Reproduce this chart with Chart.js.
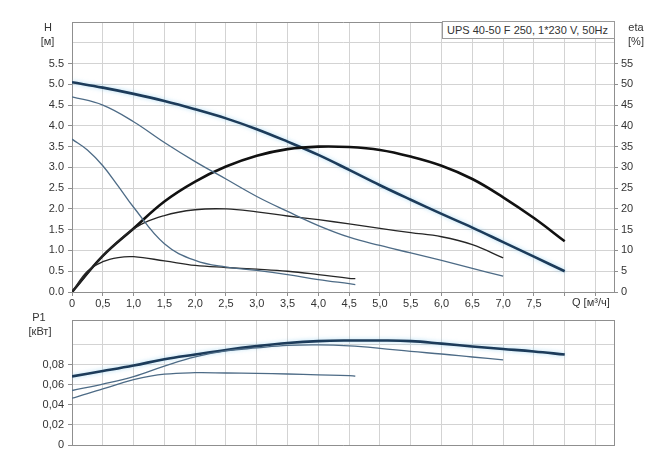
<!DOCTYPE html>
<html>
<head>
<meta charset="utf-8">
<script src="https://cdn.jsdelivr.net/npm/chart.js@4.4.1/dist/chart.umd.min.js"></script>
<style>
body{margin:0;background:#fff;font-family:"Liberation Sans",Arial,sans-serif;}
#wrap{position:relative;width:670px;height:470px;overflow:hidden;}
canvas{position:absolute;left:0;}
#top{top:0;}
#bot{top:310px;}
.lbl{position:absolute;font-size:11px;color:#333;text-align:center;line-height:12px;white-space:nowrap;}
#box{position:absolute;left:442px;top:21px;border:1px solid #9a9a9a;background:#fff;
     font-size:11px;color:#333;line-height:16px;padding-left:4px;box-sizing:border-box;width:173px;height:18px;white-space:nowrap;}
</style>
</head>
<body>
<div id="wrap">
  <canvas id="top" width="670" height="310"></canvas>
  <canvas id="bot" width="670" height="160"></canvas>
  <div class="lbl" style="left:38px;top:21px;width:20px;">H</div>
  <div class="lbl" style="left:36px;top:35px;width:23px;">[м]</div>
  <div class="lbl" style="left:623px;top:21px;width:26px;">eta</div>
  <div class="lbl" style="left:623px;top:35px;width:26px;">[%]</div>
  <div class="lbl" style="left:572px;top:296px;text-align:left;">Q [м³/ч]</div>
  <div class="lbl" style="left:28px;top:311px;width:22px;">P1</div>
  <div class="lbl" style="left:20px;top:325px;width:40px;">[кВт]</div>
  <div id="box">UPS 40-50 F 250, 1*230 V, 50Hz</div>
</div>
<script>
// flow, m3/h
var q3 = [0, 0.5, 1, 1.5, 2, 2.5, 3, 3.5, 4, 4.5, 5, 5.5, 6, 6.5, 7, 7.5, 8];
var q2 = [0, 0.5, 1, 1.5, 2, 2.5, 3, 3.5, 4, 4.5, 5, 5.5, 6, 6.5, 7];
var q1 = [0, 0.25, 0.5, 0.75, 1, 1.5, 2, 2.5, 3, 3.5, 4, 4.5, 4.6];

// head H, m
var h3 = [5.05, 4.92, 4.77, 4.6, 4.4, 4.18, 3.92, 3.62, 3.3, 2.94, 2.57, 2.22, 1.88, 1.55, 1.2, 0.85, 0.5];
var h2 = [4.7, 4.5, 4.1, 3.6, 3.14, 2.72, 2.3, 1.94, 1.6, 1.32, 1.12, 0.94, 0.76, 0.57, 0.38];
var h1 = [3.68, 3.42, 3.04, 2.55, 2.04, 1.16, 0.76, 0.6, 0.52, 0.42, 0.3, 0.2, 0.18];

// efficiency eta, %
var eta3 = [0, 8.7, 15.3, 21.8, 26.6, 30.2, 32.8, 34.4, 35, 34.9, 34.2, 32.6, 30.4, 27.2, 22.8, 17.8, 12.2];
var eta2 = [0, 8.6, 15.2, 18.4, 19.8, 20, 19.3, 18.3, 17.4, 16.4, 15.3, 14.3, 13.3, 11.4, 8.2];
var eta1 = [0, 5.0, 7.3, 8.3, 8.5, 7.5, 6.4, 5.9, 5.5, 5.0, 4.2, 3.3, 3.2];

// power P1, kW
var p3 = [0.0682, 0.0735, 0.079, 0.0853, 0.09, 0.0945, 0.0983, 0.1014, 0.1033, 0.1039, 0.1039, 0.1033, 0.1008, 0.098, 0.0955, 0.093, 0.09];
var p2 = [0.0542, 0.0605, 0.068, 0.0785, 0.0877, 0.0935, 0.0965, 0.099, 0.0995, 0.0985, 0.0961, 0.093, 0.0905, 0.0875, 0.0847];
var p1 = [0.0465, 0.051, 0.0558, 0.0605, 0.0651, 0.0704, 0.0719, 0.0716, 0.0712, 0.0706, 0.0698, 0.069, 0.0685];

// axis ticks
var qTicks = [0, 0.5, 1, 1.5, 2, 2.5, 3, 3.5, 4, 4.5, 5, 5.5, 6, 6.5, 7, 7.5, 8, 8.5];
var hTicks = [0, 0.5, 1, 1.5, 2, 2.5, 3, 3.5, 4, 4.5, 5, 5.5, 6, 6.5];
var etaTicks = [0, 5, 10, 15, 20, 25, 30, 35, 40, 45, 50, 55, 60, 65];
var pTicks = [0, 0.02, 0.04, 0.06, 0.08, 0.1, 0.1237];
var qMax = 8.8;

var frame = '#8f8f8f', gridCol = '#d3d3d3', none = 'rgba(0,0,0,0)';
var thickBlue = '#1c3b5a', thinBlue = '#4d6b86', thickBlack = '#111', thinBlack = '#262626';

Chart.defaults.font.family = '"Liberation Sans", Arial, sans-serif';
Chart.defaults.font.size = 11;
Chart.defaults.color = '#333';

function pts(xs, ys) {
    return xs.map(function (v, i) { return {x: v, y: ys[i]}; });
}
function line(data, axis, color, w, glow) {
    return {data: data, yAxisID: axis, borderColor: color, borderWidth: w, pointRadius: 0,
            fill: false, tension: 0.4, glow: glow};
}
function setTicks(list) {
    return function (s) { s.ticks = list.map(function (v) { return {value: v}; }); };
}

// light blue halo round the blue curves
var glowPlugin = {
    id: 'glow',
    beforeDatasetDraw: function (chart, args) {
        var ctx = chart.ctx;
        ctx.save();
        if (chart.data.datasets[args.index].glow) {
            ctx.shadowColor = 'rgba(120,195,235,0.6)';
            ctx.shadowBlur = 4;
        }
    },
    afterDatasetDraw: function (chart) { chart.ctx.restore(); }
};

var xLabel = function (v) {
    if (v > 7.5) return '';
    return v === 0 ? '0' : v.toFixed(1).replace('.', ',');
};

new Chart(document.getElementById('top'), {
    type: 'line',
    data: {
        datasets: [
            line(pts(q1, h1), 'y', thinBlue, 1.3),
            line(pts(q2, h2), 'y', thinBlue, 1.3),
            line(pts(q1, eta1), 'y1', thinBlack, 1.3),
            line(pts(q2, eta2), 'y1', thinBlack, 1.3),
            line(pts(q3, eta3), 'y1', thickBlack, 2.6),
            line(pts(q3, h3), 'y', thickBlue, 2.6, true)
        ]
    },
    options: {
        responsive: false,
        animation: false,
        events: [],
        layout: {padding: {top: 22, right: 0, left: 0, bottom: 0}},
        plugins: {legend: {display: false}, tooltip: {enabled: false}},
        scales: {
            x: {
                type: 'linear', min: 0, max: qMax,
                afterBuildTicks: setTicks(qTicks),
                afterFit: function (s) { s.height = 18; },
                grid: {color: gridCol, tickLength: 4, tickColor: frame},
                border: {color: frame},
                ticks: {padding: 1, maxRotation: 0, autoSkip: false, callback: xLabel}
            },
            y: {
                position: 'left', min: 0, max: 6.5,
                afterBuildTicks: setTicks(hTicks),
                afterFit: function (s) { s.width = 72; },
                grid: {
                    color: function (c) { return c.tick && c.tick.value === 6.5 ? frame : gridCol; },
                    tickLength: 4,
                    tickColor: function (c) { return c.tick && c.tick.value > 5.5 ? none : frame; }
                },
                border: {color: frame},
                ticks: {padding: 4, callback: function (v) { return v > 5.5 ? '' : v.toFixed(1); }}
            },
            y1: {
                position: 'right', min: 0, max: 65,
                afterBuildTicks: setTicks(etaTicks),
                afterFit: function (s) { s.width = 56; },
                grid: {
                    drawOnChartArea: false, tickLength: 4,
                    tickColor: function (c) { return c.tick && c.tick.value > 55 ? none : frame; }
                },
                border: {color: frame},
                ticks: {padding: 3, callback: function (v) { return v > 55 ? '' : String(v); }}
            }
        }
    },
    plugins: [glowPlugin]
});

new Chart(document.getElementById('bot'), {
    type: 'line',
    data: {
        datasets: [
            line(pts(q1, p1), 'y', thinBlue, 1.3),
            line(pts(q2, p2), 'y', thinBlue, 1.3),
            line(pts(q3, p3), 'y', thickBlue, 2.6, true)
        ]
    },
    options: {
        responsive: false,
        animation: false,
        events: [],
        layout: {padding: {top: 2, right: 0, left: 0, bottom: 0}},
        plugins: {legend: {display: false}, tooltip: {enabled: false}},
        scales: {
            x: {
                type: 'linear', min: 0, max: qMax,
                afterBuildTicks: setTicks(qTicks),
                afterFit: function (s) { s.height = 25; },
                grid: {color: gridCol, drawTicks: false},
                border: {color: frame},
                ticks: {display: false}
            },
            y: {
                position: 'left', min: 0, max: pTicks[pTicks.length - 1],
                afterBuildTicks: setTicks(pTicks),
                afterFit: function (s) { s.width = 72; },
                grid: {
                    color: function (c) { return c.tick && c.tick.value > 0.11 ? frame : gridCol; },
                    tickLength: 4,
                    tickColor: function (c) { return c.tick && c.tick.value > 0.09 ? none : frame; }
                },
                border: {color: frame},
                ticks: {padding: 4, callback: function (v) {
                    if (v > 0.09) return '';
                    return v === 0 ? '0' : v.toFixed(2).replace('.', ',');
                }}
            },
            y2: {
                position: 'right', min: 0, max: pTicks[pTicks.length - 1],
                afterFit: function (s) { s.width = 56; },
                grid: {drawOnChartArea: false, drawTicks: false},
                border: {color: frame},
                ticks: {display: false}
            }
        }
    },
    plugins: [glowPlugin]
});
</script>
</body>
</html>
